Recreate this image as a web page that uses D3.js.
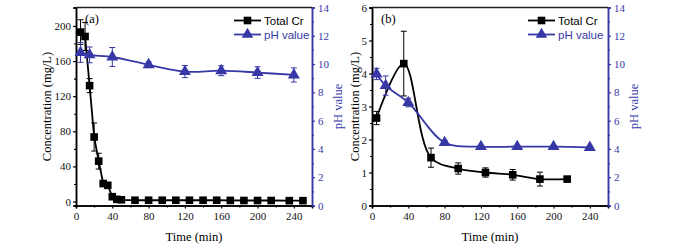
<!DOCTYPE html>
<html>
<head>
  <meta charset="utf-8">
  <title>Total Cr and pH vs time</title>
  <script src="https://cdn.jsdelivr.net/npm/d3@7/dist/d3.min.js"></script>
  <style>
    body { margin: 0; background: #fff; }
    .serif { font-family: "Liberation Serif", "Times New Roman", serif; }
    .sans { font-family: "Liberation Sans", Arial, sans-serif; }
  </style>
</head>
<body>
  <svg width="692" height="249" id="mainsvg"></svg>
  <script>
    // panel (a)
    const timeCrA = [5, 10, 15, 20, 25, 30, 35, 40, 45, 50, 65, 80, 95, 110, 125, 140, 155, 170, 185, 200, 215, 235, 250];
    const crA = [193, 188, 132, 73.5, 46, 20.5, 18.5, 5.5, 2.5, 2, 1.5, 1.5, 1.5, 1.5, 1.5, 1.5, 1.5, 1.3, 1.2, 1.2, 1.2, 1, 1];
    const crErrA = [14, 16, 8, 16, 9, 3, 3, 2, 1, 1, 0.5, 0.5, 0.5, 0.5, 0.5, 0.5, 0.5, 0.5, 0.5, 0.5, 0.5, 0.5, 0.5];
    const timePhA = [5, 15, 40, 80, 120, 160, 200, 240];
    const phA = [10.82, 10.65, 10.5, 9.95, 9.47, 9.53, 9.4, 9.23];
    const phErrA = [0.7, 0.56, 0.67, 0.2, 0.43, 0.35, 0.41, 0.5];

    // panel (b)
    const timeCrB = [5, 35, 65, 95, 125, 155, 185, 215];
    const crB = [2.65, 4.3, 1.45, 1.12, 1.0, 0.93, 0.8, 0.8];
    const crErrB = [0.2, 0.98, 0.29, 0.17, 0.14, 0.16, 0.21, 0];
    const timePhB = [5, 15, 40, 80, 120, 160, 200, 240];
    const phB = [9.3, 8.48, 7.28, 4.45, 4.16, 4.16, 4.16, 4.1];
    const phErrB = [0.4, 0.68, 0.3, 0.15, 0.1, 0.1, 0.1, 0.1];

    // tick labels
    const timeTicks = [0, 40, 80, 120, 160, 200, 240];
    const timeMinor = [20, 60, 100, 140, 180, 220, 260];
    const concTicksA = [0, 40, 80, 120, 160, 200];
    const concMinorA = [20, 60, 100, 140, 180];
    const concTicksB = [0, 1, 2, 3, 4, 5, 6];
    const concMinorB = [0.5, 1.5, 2.5, 3.5, 4.5, 5.5];
    const phTicks = [0, 2, 4, 6, 8, 10, 12, 14];
    const phMinor = [1, 3, 5, 7, 9, 11, 13];

    const blue = '#3737a6';
    const svg = d3.select('#mainsvg');
    const yTop = 7.5, yBottom = 205.5;
    const fmt = d3.format('d');

    function drawPanel(p) {
      const g = svg.append('g');
      const x = d3.scaleLinear().domain([0, 260]).range([p.x0, p.x1]);
      const yL = d3.scaleLinear().domain(p.concDomain).range([yBottom, yTop]);
      const yR = d3.scaleLinear().domain([0, 14]).range([yBottom, yTop]);

      // axes
      g.append('g').attr('transform', `translate(0,${yBottom})`)
        .call(d3.axisBottom(x).tickValues(timeTicks).tickFormat(fmt).tickSize(3).tickPadding(4));
      g.append('g').attr('transform', `translate(0,${yBottom})`)
        .call(d3.axisBottom(x).tickValues(timeMinor).tickSize(2).tickFormat(''));
      g.append('g').attr('transform', `translate(${p.x0},0)`)
        .call(d3.axisLeft(yL).tickValues(p.concTicks).tickFormat(fmt).tickSize(3).tickPadding(2));
      g.append('g').attr('transform', `translate(${p.x0},0)`)
        .call(d3.axisLeft(yL).tickValues(p.concMinor).tickSize(2).tickFormat(''));
      const ra = g.append('g').attr('transform', `translate(${p.x1},0)`)
        .call(d3.axisRight(yR).tickValues(phTicks).tickFormat(fmt).tickSize(3).tickPadding(3));
      const ram = g.append('g').attr('transform', `translate(${p.x1},0)`)
        .call(d3.axisRight(yR).tickValues(phMinor).tickSize(2).tickFormat(''));
      g.selectAll('.domain').attr('stroke-width', 1.5);
      g.selectAll('.tick line').attr('stroke-width', 1.2);
      g.selectAll('.tick text').attr('class', 'serif').attr('font-size', 11).attr('fill', '#111');
      [ra, ram].forEach(a => {
        a.selectAll('.domain, .tick line').attr('stroke', blue);
        a.selectAll('.tick text').attr('fill', blue);
      });
      // top frame
      g.append('line').attr('x1', p.x0).attr('x2', p.x1).attr('y1', yTop).attr('y2', yTop)
        .attr('stroke', '#222').attr('stroke-width', 1.5);

      // titles
      g.append('text').attr('class', 'serif').attr('font-size', 12.5)
        .attr('text-anchor', 'middle')
        .attr('x', (p.x0 + p.x1) / 2).attr('y', 241).text('Time (min)');
      g.append('text').attr('class', 'serif').attr('font-size', 12.5)
        .attr('text-anchor', 'middle').attr('dominant-baseline', 'central')
        .attr('transform', `translate(${p.leftTitleX},${(yTop + yBottom) / 2}) rotate(-90)`)
        .text('Concentration (mg/L)');
      g.append('text').attr('class', 'serif').attr('font-size', 12.5).attr('fill', blue)
        .attr('text-anchor', 'middle').attr('dominant-baseline', 'central')
        .attr('transform', `translate(${p.x1 + 26},${(yTop + yBottom) / 2}) rotate(-90)`)
        .text('pH value');
      g.append('text').attr('class', 'serif').attr('font-size', 12.5)
        .attr('x', p.x0 + 9).attr('y', 23).text(p.label);

      // series
      function series(ts, vs, es, y, color, shape, curve) {
        const pts = ts.map((t, i) => ({ t, v: vs[i], e: es[i] }));
        g.append('path').datum(pts)
          .attr('fill', 'none').attr('stroke', color).attr('stroke-width', 1.8)
          .attr('d', d3.line().x(d => x(d.t)).y(d => y(d.v)).curve(curve));
        pts.filter(d => d.e > 0).forEach(d => {
          const cx = x(d.t), y1 = y(d.v + d.e), y2 = y(d.v - d.e);
          g.append('line').attr('x1', cx).attr('x2', cx).attr('y1', y1).attr('y2', y2)
            .attr('stroke', color).attr('stroke-width', 1);
          [y1, y2].forEach(yy => g.append('line').attr('x1', cx - 3).attr('x2', cx + 3)
            .attr('y1', yy).attr('y2', yy).attr('stroke', color).attr('stroke-width', 1));
        });
        g.selectAll(null).data(pts).enter().append('path')
          .attr('transform', d => `translate(${x(d.t)},${y(d.v)})`)
          .attr('d', d3.symbol().type(shape).size(shape === d3.symbolSquare ? 58 : 62))
          .attr('fill', color);
      }
      series(p.tCr, p.cr, p.crErr, yL, '#000', d3.symbolSquare, p.curveCr);
      series(p.tPh, p.ph, p.phErr, yR, blue, d3.symbolTriangle, d3.curveCatmullRom.alpha(0.5));

      // legend
      const lg = g.append('g');
      [['Total Cr', '#000', d3.symbolSquare, 20.5], ['pH value', blue, d3.symbolTriangle, 34.5]]
        .forEach(([name, color, shape, ly]) => {
          lg.append('line').attr('x1', p.legX).attr('x2', p.legX + 27).attr('y1', ly).attr('y2', ly)
            .attr('stroke', color).attr('stroke-width', 1.8);
          lg.append('path').attr('transform', `translate(${p.legX + 13.5},${ly})`)
            .attr('d', d3.symbol().type(shape).size(58)).attr('fill', color);
          lg.append('text').attr('class', 'sans').attr('font-size', 11.5).attr('fill', color)
            .attr('x', p.legX + 30).attr('y', ly + 4).text(name);
        });
    }

    drawPanel({
      x0: 76, x1: 312, concDomain: [-4.5, 221], concTicks: concTicksA, concMinor: concMinorA,
      tCr: timeCrA, cr: crA, crErr: crErrA, tPh: timePhA, ph: phA, phErr: phErrA,
      curveCr: d3.curveLinear, leftTitleX: 47, legX: 234, label: '(a)'
    });
    drawPanel({
      x0: 372, x1: 608, concDomain: [0, 6], concTicks: concTicksB, concMinor: concMinorB,
      tCr: timeCrB, cr: crB, crErr: crErrB, tPh: timePhB, ph: phB, phErr: phErrB,
      curveCr: d3.curveCatmullRom.alpha(0.5), leftTitleX: 355, legX: 528, label: '(b)'
    });
  </script>
</body>
</html>
